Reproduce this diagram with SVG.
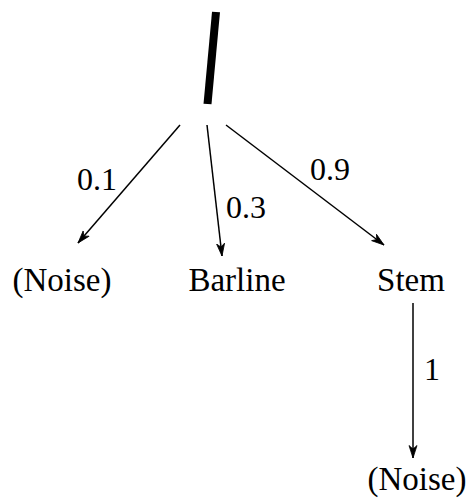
<svg xmlns="http://www.w3.org/2000/svg" width="467" height="499" viewBox="0 0 467 499">
<defs>
<style>
text{font-family:"Liberation Serif","Times New Roman",serif;font-size:32px;fill:#000}
.c{text-anchor:middle;font-size:33px}
.e{stroke:#000;stroke-width:1.5;fill:none;marker-end:url(#ah)}
</style>
<marker id="ah" viewBox="0 0 14 10" refX="13" refY="5" markerWidth="14" markerHeight="10" markerUnits="userSpaceOnUse" orient="auto">
<path d="M0.5,1 L13,5 L0.5,9 L4,5 z" fill="#000" stroke="#000" stroke-width="0.8" stroke-linejoin="miter"/>
</marker>
</defs>
<rect width="467" height="499" fill="#fff"/>
<g id="root">
<line x1="216" y1="12" x2="207.5" y2="104" stroke="#000" stroke-width="8"/>
</g>
<g id="connectors">
<line class="e" x1="180" y1="125" x2="78" y2="243"/>
<line class="e" x1="207" y1="125" x2="222" y2="256"/>
<line class="e" x1="226" y1="125" x2="384" y2="245"/>
<line class="e" x1="413" y1="303" x2="413" y2="458"/>
<text x="77" y="190">0.1</text>
<text x="226" y="218">0.3</text>
<text x="310" y="180">0.9</text>
<text x="424" y="380">1</text>
</g>
<g id="noise1"><text class="c" x="62" y="291">(Noise)</text></g>
<g id="barline"><text class="c" x="237" y="291">Barline</text></g>
<g id="stem"><text class="c" x="411" y="291">Stem</text></g>
<g id="noise2"><text class="c" x="417" y="490">(Noise)</text></g>
</svg>
